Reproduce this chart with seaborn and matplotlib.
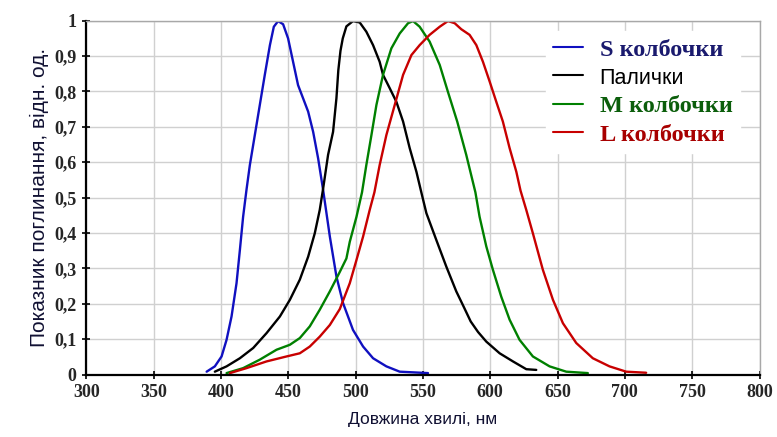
import numpy as np
import pandas as pd
import matplotlib
matplotlib.use("Agg")
import matplotlib.pyplot as plt
import seaborn as sns

# ==========================================
# DATA
# ==========================================
S_NM = [389.4, 395.5, 400.5, 404.2, 407.9, 411.6, 414.1, 416.5, 419, 421.5, 425.2, 428.9,
        432.6, 436.4, 439.3, 442.5, 446.2, 449.9, 453.6, 457.3, 461, 464.8, 468.5, 472.2,
        475.9, 480.9, 485.8, 490.7, 498.1, 505.6, 513, 522.9, 532.8, 553.8]
S_VAL = [0.008, 0.023, 0.051, 0.098, 0.164, 0.258, 0.352, 0.446, 0.522, 0.592, 0.677, 0.762,
         0.847, 0.931, 0.983, 0.999, 0.990, 0.950, 0.884, 0.818, 0.781, 0.743, 0.686, 0.611,
         0.522, 0.390, 0.277, 0.202, 0.126, 0.079, 0.046, 0.023, 0.008, 0.004]

ROD_NM = [395.5, 404.2, 414.1, 424, 433.9, 443.8, 451.2, 458.6, 464.8, 469.7, 473.4, 475.9,
          479.6, 483.3, 485.8, 487.2, 488.8, 490.5, 493.2, 498.1, 503.1, 508, 513, 517.9,
          520.4, 525.4, 530.3, 535.3, 540.2, 545.2, 548.9, 552.6, 560, 567.4, 574.8, 580.5,
          585.5, 591, 597.1, 607, 616.9, 626.8, 634.2]
ROD_VAL = [0.008, 0.023, 0.046, 0.075, 0.117, 0.164, 0.211, 0.268, 0.333, 0.399, 0.465, 0.525,
           0.621, 0.686, 0.781, 0.860, 0.915, 0.950, 0.984, 0.999, 0.995, 0.969, 0.931, 0.884,
           0.847, 0.809, 0.771, 0.715, 0.640, 0.573, 0.514, 0.456, 0.380, 0.305, 0.235, 0.190,
           0.150, 0.120, 0.093, 0.060, 0.037, 0.015, 0.013]

M_NM = [404.2, 416.5, 428.9, 441.3, 451.2, 458.6, 466, 473.4, 480.9, 488.3, 493.2, 495.7,
        500.7, 504.8, 508, 511.8, 515.5, 520.4, 526.6, 532.8, 539, 542.7, 547.6, 555, 562.5,
        568.6, 575.5, 582.2, 589, 592.1, 597.1, 602, 608.2, 614.4, 621.8, 631.7, 644.1,
        656.5, 672.5]
M_VAL = [0.004, 0.018, 0.042, 0.070, 0.084, 0.103, 0.136, 0.183, 0.235, 0.290, 0.328, 0.375,
         0.446, 0.515, 0.592, 0.677, 0.762, 0.847, 0.922, 0.964, 0.993, 0.999, 0.983, 0.941,
         0.875, 0.799, 0.715, 0.621, 0.515, 0.446, 0.362, 0.296, 0.220, 0.155, 0.098, 0.051,
         0.023, 0.008, 0.004]

L_NM = [406.7, 419, 433.9, 448.7, 458.6, 466, 473.4, 480.9, 488.3, 495.7, 500.7, 505.6,
        510.5, 514, 517.9, 522.9, 529.1, 535.3, 541.5, 547.6, 555, 562.5, 568.6, 573.6,
        578.5, 584.7, 589.7, 594.6, 599.6, 604.5, 609.4, 614.4, 619.4, 622.5, 626.8, 631.7,
        639.1, 646.6, 654, 663.9, 676.2, 688.6, 701, 715.8]
L_VAL = [0.004, 0.018, 0.037, 0.051, 0.060, 0.079, 0.107, 0.140, 0.185, 0.258, 0.324, 0.390,
         0.465, 0.515, 0.592, 0.677, 0.762, 0.847, 0.903, 0.931, 0.960, 0.983, 0.999, 0.993,
         0.976, 0.960, 0.931, 0.884, 0.828, 0.771, 0.715, 0.640, 0.573, 0.520, 0.465, 0.399,
         0.296, 0.211, 0.145, 0.089, 0.046, 0.023, 0.008, 0.005]

SERIES = ["S колбочки", "Палички", "M колбочки", "L колбочки"]
LINE_COLORS = ["#1010c0", "#000000", "#008000", "#c80000"]
TEXT_COLORS = ["#1a1a6e", "#000000", "#0b5e0b", "#a80000"]

X_TICKS = list(range(300, 801, 50))
Y_TICKS = [round(v * 0.1, 1) for v in range(11)]
Y_TICK_LABELS = ["0", "0,1", "0,2", "0,3", "0,4", "0,5", "0,6", "0,7", "0,8", "0,9", "1"]

# ==========================================
# BUILD LONG TABLE
# ==========================================
frames = []
for name, xs, ys in zip(SERIES, [S_NM, ROD_NM, M_NM, L_NM], [S_VAL, ROD_VAL, M_VAL, L_VAL]):
    frames.append(pd.DataFrame({"nm": xs, "val": ys, "series": name}))
df = pd.concat(frames, ignore_index=True)

# ==========================================
# PLOT
# ==========================================
sns.set_style("whitegrid")
plt.rcParams["font.family"] = ["Liberation Sans", "DejaVu Sans"]

fig, ax = plt.subplots(figsize=(7.77, 4.37), dpi=100)
fig.subplots_adjust(left=0.111, right=0.9775, top=0.9526, bottom=0.143)

sns.lineplot(data=df, x="nm", y="val", hue="series", hue_order=SERIES,
             palette=dict(zip(SERIES, LINE_COLORS)), sort=False,
             linewidth=1.7, ax=ax, legend=True)

ax.set_xlim(300, 800)
ax.set_ylim(0, 1)
ax.set_xticks(X_TICKS)
ax.set_yticks(Y_TICKS)
ax.set_yticklabels(Y_TICK_LABELS)

for lab in ax.get_xticklabels() + ax.get_yticklabels():
    lab.set_fontfamily("Liberation Serif")
    lab.set_fontweight("bold")
    lab.set_fontsize(13)

ax.grid(True, color="#d0d0d0", linewidth=1.0)
ax.tick_params(axis="both", which="both", length=6, width=1.2, color="black",
               direction="inout", pad=4, left=True, bottom=True)

for side in ["top", "right"]:
    ax.spines[side].set_color("#a8a8a8")
    ax.spines[side].set_linewidth(1.0)
for side in ["left", "bottom"]:
    ax.spines[side].set_color("black")
    ax.spines[side].set_linewidth(1.6)

ax.set_xlabel("Довжина хвилі, нм", fontsize=12.5, color="#111133", labelpad=8)
ax.set_ylabel("Показник поглинання, відн. од.", fontsize=15, color="#111133", labelpad=4)

leg = ax.legend(loc="upper left", bbox_to_anchor=(0.683, 0.97), frameon=True,
                facecolor="white", edgecolor="white", framealpha=1.0,
                handlelength=1.2, handletextpad=0.7, labelspacing=0.26, fontsize=17.5,
                borderpad=0.3, borderaxespad=0.0)
for txt, col, name in zip(leg.get_texts(), TEXT_COLORS, SERIES):
    txt.set_color(col)
    if name == "Палички":
        txt.set_fontfamily("Liberation Sans")
        txt.set_fontsize(15.5)
    else:
        txt.set_fontfamily("Liberation Serif")
        txt.set_fontweight("bold")
for line in leg.get_lines():
    line.set_linewidth(1.5)

fig.savefig("out.png", dpi=100)
